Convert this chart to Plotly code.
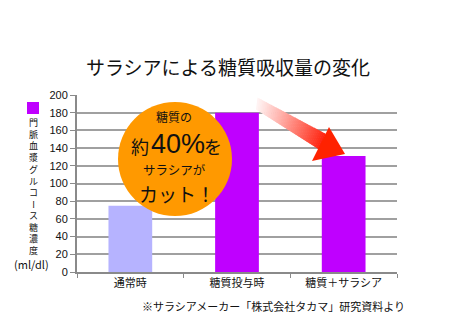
import plotly.graph_objects as go

categories = ["通常時", "糖質投与時", "糖質＋サラシア"]
values = [75, 180, 131]
bar_colors = ["#b6b3ff", "#bf00ff", "#bf00ff"]
y_ticks = list(range(0, 201, 20))
title_text = "サラシアによる糖質吸収量の変化"
y_label = "門脈血漿グルコース糖濃度"
y_unit = "(ml/dl)"
source_note = "※サラシアメーカー「株式会社タカマ」研究資料より"

W, H = 450, 320
L, R, T, B = 77, 53, 95, 48
PW, PH = W - L - R, H - T - B
JP = "Noto Sans CJK JP"


def px(x):
    return (x - L) / PW


def py(y):
    return (H - B - y) / PH


fig = go.Figure()
fig.add_trace(go.Bar(
    x=categories, y=values, marker=dict(color=bar_colors, line=dict(width=0)),
    width=0.41, showlegend=False,
))

shapes = []
# gradient arrow shaft
S0t, S0b = (257.5, 97.5), (256.0, 109.5)
E0t, E0b = (326.0, 134.0), (319.0, 149.5)
N = 40


def lerp(a, b, t):
    return (a[0] + (b[0] - a[0]) * t, a[1] + (b[1] - a[1]) * t)


for i in range(N):
    t0, t1 = i / N, min(1.0, (i + 1.3) / N)
    p1, p2 = lerp(S0t, E0t, t0), lerp(S0t, E0t, t1)
    p3, p4 = lerp(S0b, E0b, t1), lerp(S0b, E0b, t0)
    tm = ((i + 0.5) / N) ** 1.1
    g = int(245 + (35 - 245) * tm)
    b = int(245 + (15 - 245) * tm)
    col = f"rgb(255,{g},{b})"
    path = "M {} {} L {} {} L {} {} L {} {} Z".format(
        px(p1[0]), py(p1[1]), px(p2[0]), py(p2[1]),
        px(p3[0]), py(p3[1]), px(p4[0]), py(p4[1]))
    shapes.append(dict(type="path", path=path, xref="paper", yref="paper",
                       fillcolor=col, line=dict(width=0), layer="above"))
# arrow head
tri = [(329, 127), (312, 161), (345, 154)]
shapes.append(dict(type="path", xref="paper", yref="paper", layer="above",
                   path="M {} {} L {} {} L {} {} Z".format(
                       px(tri[0][0]), py(tri[0][1]), px(tri[1][0]), py(tri[1][1]),
                       px(tri[2][0]), py(tri[2][1])),
                   fillcolor="#ff2200", line=dict(width=0)))
# orange circle
shapes.append(dict(type="circle", xref="paper", yref="paper", layer="above",
                   x0=px(118), x1=px(232), y0=py(216), y1=py(102),
                   fillcolor="#ff9900", line=dict(width=0)))
# legend square
shapes.append(dict(type="rect", xref="paper", yref="paper", layer="above",
                   x0=px(27), x1=px(39), y0=py(114), y1=py(102),
                   fillcolor="#bf00ff", line=dict(width=0)))

ann = []


def add_text(text, x, y, size, family=JP, **kw):
    d = dict(text=text, x=px(x), y=py(y), xref="paper", yref="paper",
             showarrow=False, xanchor="center", yanchor="middle", borderpad=0,
             font=dict(family=family, size=size, color="#111111"))
    d.update(kw)
    ann.append(d)


add_text(title_text, 228, 66, 19)

# vertical axis label (stacked characters, long-vowel mark turned upright)
VS = 9
step = VS * 1.3
y0 = 122
k = y_label.index("ー")
first, second = y_label[:k], y_label[k + 1:]
add_text("<br>".join(first), 33, y0 + step * (len(first) - 1) / 2, VS)
add_text("ー", 33, y0 + step * k, VS, textangle=90)
add_text("<br>".join(second), 33, y0 + step * (k + 1 + (len(second) - 1) / 2), VS)
add_text(y_unit, 31, 264, 11)
add_text(source_note, 273, 306, 11)
# circle texts
add_text("糖質の", 174, 116, 12)
add_text("約", 140, 146, 18)
add_text("40%", 178, 144, 27, family="Liberation Sans")
add_text("を", 213, 146, 18)
add_text("サラシアが", 174, 169, 12.5)
add_text("カット！", 177, 193, 19)

fig.update_layout(
    width=W, height=H, margin=dict(l=L, r=R, t=T, b=B),
    paper_bgcolor="white", plot_bgcolor="white",
    font=dict(family=JP, size=11, color="#111111"),
    bargap=0.59, shapes=shapes, annotations=ann,
    xaxis=dict(range=[-0.5, 2.5], showline=True, linecolor="#8a8a8a", linewidth=2,
               ticks="outside", tickson="boundaries", ticklen=4, tickcolor="#8a8a8a",
               showgrid=False, tickfont=dict(family=JP, size=11, color="#111111")),
    yaxis=dict(range=[0, 200], tickvals=y_ticks, showline=True, linecolor="#8a8a8a",
               linewidth=2, ticks="outside", ticklen=5, tickcolor="#8a8a8a",
               showgrid=True, gridcolor="#a0a0a0", gridwidth=2, zeroline=False,
               tickfont=dict(family="Liberation Sans", size=11, color="#111111")),
)
fig.write_html("out.html")
